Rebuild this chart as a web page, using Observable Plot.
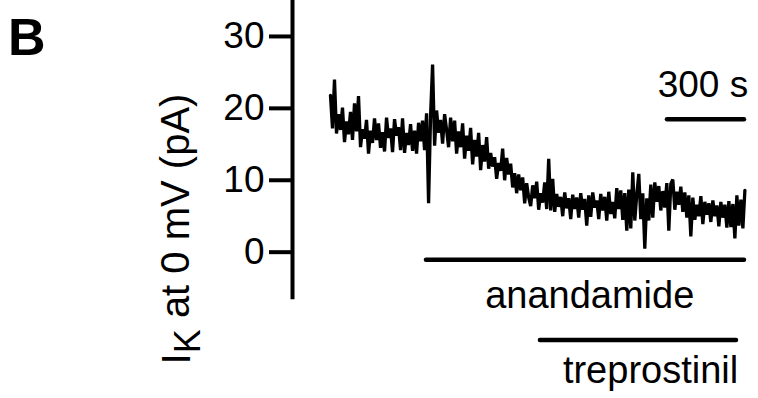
<!DOCTYPE html>
<html>
<head>
<meta charset="utf-8">
<script src="https://cdn.jsdelivr.net/npm/d3@7"></script>
<script src="https://cdn.jsdelivr.net/npm/@observablehq/plot@0.6"></script>
<style>
  html, body { margin: 0; padding: 0; background: #fff; }
  #chart { width: 758px; height: 398px; }
  svg { display: block; }
</style>
</head>
<body>
<div id="chart"></div>
<script>
// ---- data ----
// Recorded current trace (pA), sampled every sampleInterval seconds from traceStart
const traceStart = 0;
const sampleInterval = 7.8;
const currentPA = [
  21.8, 17.2, 24.0, 16.5, 19.2, 17.0, 20.1, 15.3, 18.2, 16.4,
  19.5, 15.6, 20.7, 16.8, 21.7, 14.6, 17.1, 15.8, 18.4, 13.7,
  16.9, 15.2, 18.6, 15.6, 17.9, 14.5, 16.7, 14.0, 18.7, 15.9,
  17.2, 13.9, 18.5, 16.2, 17.4, 14.2, 18.6, 13.8, 16.6, 14.9,
  17.8, 14.1, 16.9, 13.7, 18.0, 15.4, 18.3, 14.2, 19.3, 6.8,
  19.0, 26.1, 14.8, 19.7, 16.6, 18.4, 15.1, 19.2, 17.0, 14.6,
  18.7, 15.4, 18.3, 13.7, 16.8, 14.6, 17.9, 13.0, 16.2, 14.1,
  17.3, 12.2, 15.6, 13.3, 16.6, 11.4, 14.9, 12.6, 16.0, 11.6,
  13.8, 11.9, 13.2, 10.2, 12.4, 11.3, 14.4, 10.0, 13.1, 10.8,
  12.3, 9.0, 11.0, 8.2, 10.8, 8.6, 10.4, 6.8, 9.6, 7.6,
  6.4, 9.3, 7.5, 9.8, 5.9, 8.2, 6.9, 9.7, 6.0, 13.0,
  5.8, 10.2, 5.6, 8.1, 6.3, 7.7, 5.0, 8.3, 6.1, 7.5,
  4.6, 8.0, 6.0, 7.6, 4.8, 8.2, 5.9, 7.4, 3.7, 7.9,
  4.9, 8.3, 6.2, 7.2, 4.6, 8.1, 5.8, 7.7, 4.4, 8.4,
  5.3, 7.0, 4.7, 8.9, 6.0, 8.6, 4.5, 8.2, 3.0, 8.7,
  3.3, 11.1, 4.4, 8.0, 10.9, 4.6, 8.2, 0.5, 7.5, 4.4,
  9.4, 4.8, 9.7, 7.0, 9.2, 5.8, 8.5, 6.2, 9.6, 3.0,
  9.5, 10.1, 5.9, 8.4, 6.6, 9.1, 5.6, 8.3, 4.8, 7.9,
  2.2, 7.6, 4.5, 6.6, 5.0, 7.8, 3.9, 7.0, 5.2, 6.8,
  4.2, 7.2, 5.0, 6.5, 3.6, 7.0, 4.8, 6.6, 3.4, 7.1,
  3.5, 6.7, 1.9, 7.9, 3.7, 7.3, 3.3, 8.6
];
const yTicks = [0, 10, 20, 30];

// drug application bars (s) and their labels
const drugNames = ["anandamide", "treprostinil"];
const drugStart = [374, 818];
const drugEnd = [1613, 1582];
const drugLevel = [-1.05, -12.2];
const drugLabelX = [1010, 1247];
const drugLabelY = [-6.1, -16.5];

// time scale bar
const scaleBarSeconds = 300;
const scaleBarEnd = 1613;
const scaleBarLevel = 18.5;
const scaleBarLabel = "300 s";

const yLabelMain = "I";
const yLabelSub = "K";
const yLabelRest = " at 0 mV (pA)";
const panelLetter = "B";

// ---- build ----
const trace = currentPA.map((v, i) => ({t: traceStart + i * sampleInterval, v}));
const drugs = drugNames.map((name, i) => ({
  name, x1: drugStart[i], x2: drugEnd[i], y: drugLevel[i], lx: drugLabelX[i], ly: drugLabelY[i]
}));
const scaleBar = [{x1: scaleBarEnd - scaleBarSeconds, x2: scaleBarEnd, y: scaleBarLevel}];

const font = "'Liberation Sans', Arial, Helvetica, sans-serif";

const chart = Plot.plot({
  width: 758,
  height: 398,
  marginLeft: 292,
  marginRight: 13,
  marginTop: 0,
  marginBottom: 0,
  style: {fontFamily: font, color: "#000", background: "#fff"},
  x: {domain: [-148, 1617], axis: null},
  y: {domain: [-20.35, 35.0], axis: null},
  marks: [
    Plot.axisY({ticks: yTicks, tickSize: 23, strokeWidth: 4, fontSize: 37, tickPadding: 5, label: null, tickFormat: d => String(d)}),
    Plot.ruleX([-148], {y1: -6.6, y2: 35, strokeWidth: 4, stroke: "#000"}),
    Plot.line(trace, {x: "t", y: "v", stroke: "#000", strokeWidth: 3.3, strokeLinejoin: "miter", strokeMiterlimit: 2.5}),
    Plot.ruleY(drugs, {y: "y", x1: "x1", x2: "x2", stroke: "#000", strokeWidth: 4.5, strokeLinecap: "round"}),
    Plot.text(drugs, {x: "lx", y: "ly", text: "name", fontSize: 38, fill: "#000", textAnchor: "middle"}),
    Plot.ruleY(scaleBar, {y: "y", x1: "x1", x2: "x2", stroke: "#000", strokeWidth: 4.5, strokeLinecap: "round"}),
    Plot.text([scaleBarLabel], {x: scaleBarEnd - scaleBarSeconds / 2 - 12, y: 23.25, text: d => d, fontSize: 37, fill: "#000", textAnchor: "middle"})
  ]
});

const svg = d3.select(chart);
// y-axis label with subscript
const yl = svg.append("text")
  .attr("transform", "translate(190,229) rotate(-90)")
  .attr("text-anchor", "middle")
  .attr("fill", "#000")
  .style("font-family", font)
  .style("font-size", "40px");
yl.append("tspan").text(yLabelMain);
yl.append("tspan").attr("dy", "0.28em").style("font-size", "36px").text(yLabelSub);
yl.append("tspan").attr("dy", "-0.28em").text(yLabelRest);

// panel letter
svg.append("text")
  .attr("x", 8).attr("y", 55)
  .attr("text-anchor", "start")
  .attr("fill", "#000")
  .style("font-family", font)
  .style("font-size", "52px")
  .style("font-weight", "bold")
  .text(panelLetter);

document.getElementById("chart").appendChild(chart);
</script>
</body>
</html>
